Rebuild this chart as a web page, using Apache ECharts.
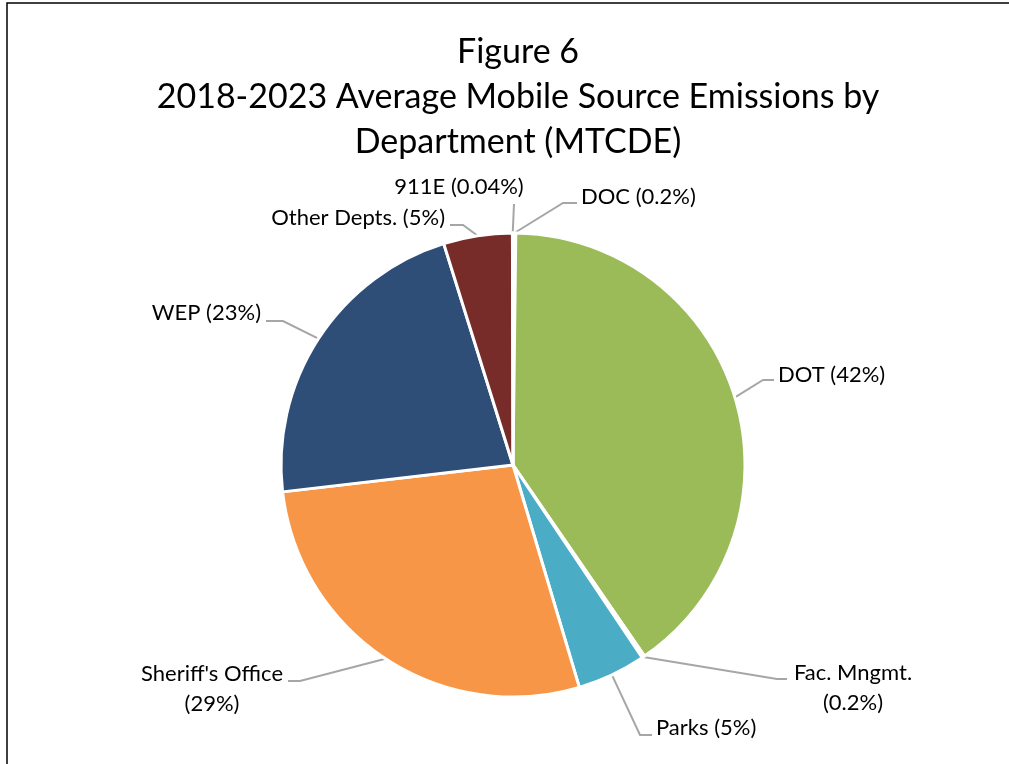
<!DOCTYPE html>
<html>
<head>
<meta charset="utf-8">
<title>Figure 6</title>
<script src="https://cdn.jsdelivr.net/npm/echarts@6/dist/echarts.min.js"></script>
<style>
  html, body { margin: 0; padding: 0; background: #fff; }
  #chart { width: 1009px; height: 764px; }
</style>
</head>
<body>
<div id="chart"></div>
<script>
// Departments, clockwise from 12 o'clock
const departments = ['DOC', 'DOT', 'Fac. Mngmt.', 'Parks', "Sheriff's Office", 'WEP', 'Other Depts.', '911E'];
// Average share of mobile source emissions (%)
const shares = [0.2, 42, 0.2, 5, 29, 23, 5, 0.04];
const sliceColors = ['#C0504D', '#9BBB59', '#8064A2', '#4BACC6', '#F79646', '#2E4E77', '#772C2A', '#77933C'];

// Labels that wrap the percentage onto a second line
const wrapped = new Set(['Fac. Mngmt.', "Sheriff's Office"]);

// Callout placement: text anchor, leader-line bend and end
const callouts = {
  'DOC':              { x: 581, y: 197, align: 'left',   bend: [563, 203], end: [577, 203] },
  '911E':             { x: 459, y: 187, align: 'center', bend: [514, 204], end: [514, 204] },
  'Other Depts.':     { x: 445, y: 218, align: 'right',  bend: [463, 225], end: [450, 225] },
  'WEP':              { x: 261, y: 313, align: 'right',  bend: [283, 321], end: [266, 321] },
  'DOT':              { x: 778, y: 375, align: 'left',   bend: [763, 380], end: [774, 380] },
  'Fac. Mngmt.':      { x: 853, y: 688, align: 'center', bend: [777, 679], end: [787, 679] },
  'Parks':            { x: 656, y: 728, align: 'left',   bend: [640, 735], end: [652, 735] },
  "Sheriff's Office": { x: 212, y: 689, align: 'center', bend: [300, 681], end: [288, 681] }
};

const FONT = 'Lato, "Open Sans", "Liberation Sans", sans-serif';

const chart = echarts.init(document.getElementById('chart'), null, { renderer: 'canvas' });

chart.setOption({
  backgroundColor: '#ffffff',
  animation: false,
  title: {
    text: 'Figure 6\n2018-2023 Average Mobile Source Emissions by\nDepartment (MTCDE)',
    left: 513,
    top: 25,
    textAlign: 'center',
    textStyle: {
      fontFamily: FONT,
      fontSize: 34,
      fontWeight: 'normal',
      color: '#000000',
      lineHeight: 45
    }
  },
  graphic: [
    {
      type: 'polyline',
      shape: { points: [[7, 764], [7, 3], [1009, 3]] },
      style: { stroke: '#000000', lineWidth: 1.5, fill: null },
      silent: true
    }
  ],
  series: [
    {
      type: 'pie',
      center: [513, 465],
      radius: [0, 232],
      startAngle: 90,
      clockwise: true,
      avoidLabelOverlap: false,
      minAngle: 0,
      itemStyle: { borderColor: '#ffffff', borderWidth: 3 },
      data: departments.map((name, i) => ({
        name: name,
        value: shares[i],
        itemStyle: { color: sliceColors[i] }
      })),
      label: {
        show: true,
        position: 'outside',
        fontFamily: FONT,
        fontSize: 22,
        color: '#000000',
        lineHeight: 30,
        formatter: p => wrapped.has(p.name) ? p.name + '\n(' + p.value + '%)' : p.name + ' (' + p.value + '%)'
      },
      labelLine: {
        show: true,
        length: 20,
        length2: 10,
        lineStyle: { color: '#A6A6A6', width: 2 }
      },
      labelLayout: function (params) {
        const c = callouts[departments[params.dataIndex]];
        const pts = params.labelLinePoints;
        const start = pts ? pts[0] : c.bend;
        return {
          x: c.x,
          y: c.y,
          align: c.align,
          verticalAlign: 'middle',
          labelLinePoints: [start, c.bend, c.end]
        };
      },
      emphasis: { disabled: true }
    }
  ]
});
</script>
</body>
</html>
